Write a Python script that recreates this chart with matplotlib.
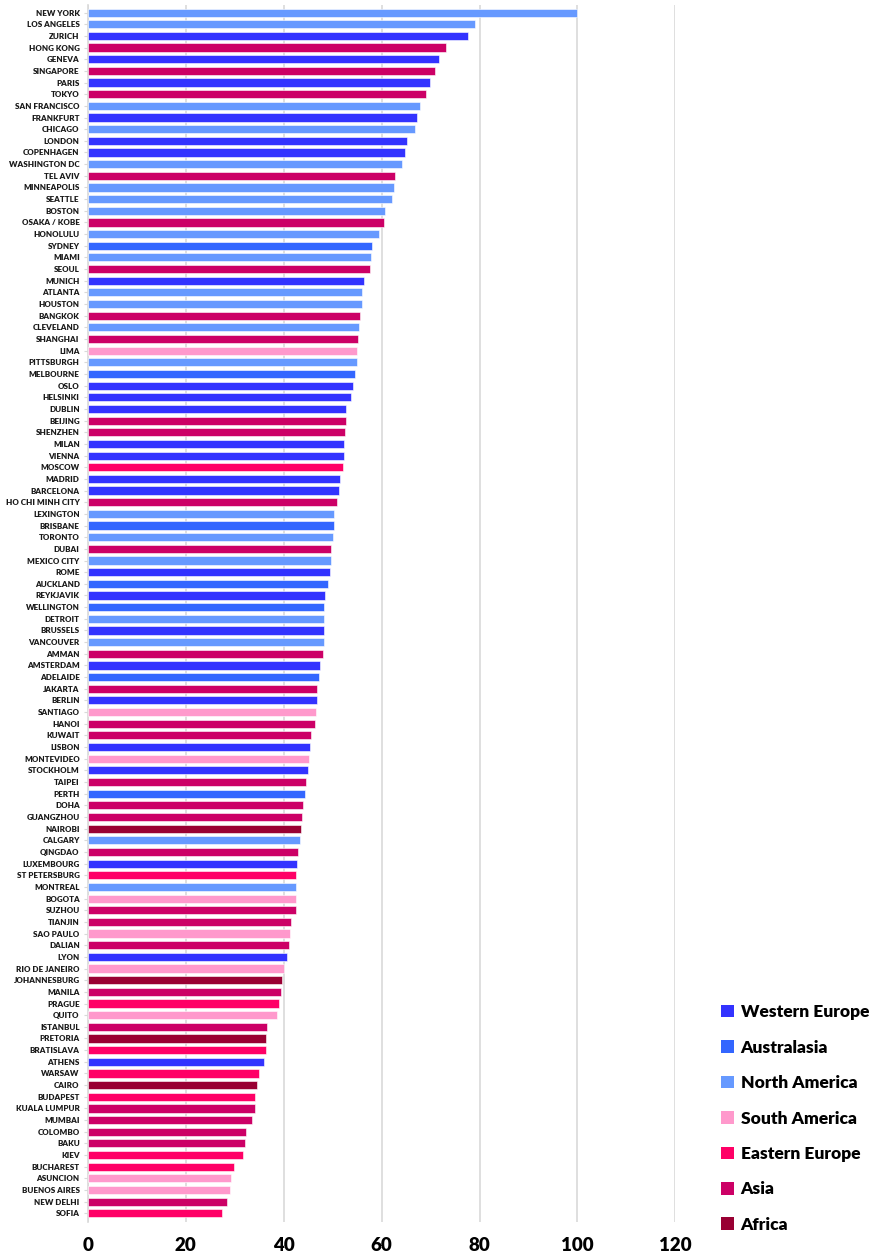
import matplotlib
matplotlib.use("Agg")
import matplotlib.pyplot as plt
from matplotlib.patches import Patch

# cities from top to bottom, with values and region
cities = [
    "NEW YORK", "LOS ANGELES", "ZURICH", "HONG KONG", "GENEVA", "SINGAPORE",
    "PARIS", "TOKYO", "SAN FRANCISCO", "FRANKFURT", "CHICAGO", "LONDON",
    "COPENHAGEN", "WASHINGTON DC", "TEL AVIV", "MINNEAPOLIS", "SEATTLE",
    "BOSTON", "OSAKA / KOBE", "HONOLULU", "SYDNEY", "MIAMI", "SEOUL",
    "MUNICH", "ATLANTA", "HOUSTON", "BANGKOK", "CLEVELAND", "SHANGHAI",
    "LIMA", "PITTSBURGH", "MELBOURNE", "OSLO", "HELSINKI", "DUBLIN",
    "BEIJING", "SHENZHEN", "MILAN", "VIENNA", "MOSCOW", "MADRID",
    "BARCELONA", "HO CHI MINH CITY", "LEXINGTON", "BRISBANE", "TORONTO",
    "DUBAI", "MEXICO CITY", "ROME", "AUCKLAND", "REYKJAVIK", "WELLINGTON",
    "DETROIT", "BRUSSELS", "VANCOUVER", "AMMAN", "AMSTERDAM", "ADELAIDE",
    "JAKARTA", "BERLIN", "SANTIAGO", "HANOI", "KUWAIT", "LISBON",
    "MONTEVIDEO", "STOCKHOLM", "TAIPEI", "PERTH", "DOHA", "GUANGZHOU",
    "NAIROBI", "CALGARY", "QINGDAO", "LUXEMBOURG", "ST PETERSBURG",
    "MONTREAL", "BOGOTA", "SUZHOU", "TIANJIN", "SAO PAULO", "DALIAN",
    "LYON", "RIO DE JANEIRO", "JOHANNESBURG", "MANILA", "PRAGUE", "QUITO",
    "ISTANBUL", "PRETORIA", "BRATISLAVA", "ATHENS", "WARSAW", "CAIRO",
    "BUDAPEST", "KUALA LUMPUR", "MUMBAI", "COLOMBO", "BAKU", "KIEV",
    "BUCHAREST", "ASUNCION", "BUENOS AIRES", "NEW DELHI", "SOFIA",
]

values = [
    100, 79.0, 77.6, 73.1, 71.8, 70.8,
    69.9, 69.0, 67.9, 67.2, 66.8, 65.2,
    64.7, 64.1, 62.8, 62.5, 62.2,
    60.6, 60.4, 59.5, 58.0, 57.8, 57.7,
    56.3, 56.0, 55.9, 55.6, 55.4, 55.2,
    55.0, 54.9, 54.6, 54.2, 53.8, 52.8,
    52.7, 52.6, 52.4, 52.3, 52.0, 51.5,
    51.2, 50.9, 50.3, 50.2, 50.1,
    49.7, 49.6, 49.4, 49.1, 48.4, 48.3,
    48.3, 48.2, 48.2, 48.1, 47.3, 47.1,
    46.8, 46.7, 46.5, 46.4, 45.5, 45.4,
    45.2, 45.0, 44.5, 44.3, 44.0, 43.7,
    43.5, 43.4, 42.9, 42.8, 42.6,
    42.5, 42.5, 42.4, 41.4, 41.2, 41.1,
    40.7, 40.0, 39.7, 39.4, 39.1, 38.6,
    36.5, 36.4, 36.3, 36.0, 35.0, 34.6,
    34.2, 34.1, 33.6, 32.3, 32.1, 31.7,
    29.9, 29.2, 29.0, 28.5, 27.4,
]

regions = [
    "NA", "NA", "WE", "AS", "WE", "AS",
    "WE", "AS", "NA", "WE", "NA", "WE",
    "WE", "NA", "AS", "NA", "NA",
    "NA", "AS", "NA", "AU", "NA", "AS",
    "WE", "NA", "NA", "AS", "NA", "AS",
    "SA", "NA", "AU", "WE", "WE", "WE",
    "AS", "AS", "WE", "WE", "EE", "WE",
    "WE", "AS", "NA", "AU", "NA",
    "AS", "NA", "WE", "AU", "WE", "AU",
    "NA", "WE", "NA", "AS", "WE", "AU",
    "AS", "WE", "SA", "AS", "AS", "WE",
    "SA", "WE", "AS", "AU", "AS", "AS",
    "AF", "NA", "AS", "WE", "EE",
    "NA", "SA", "AS", "AS", "SA", "AS",
    "WE", "SA", "AF", "AS", "EE", "SA",
    "AS", "AF", "EE", "WE", "EE", "AF",
    "EE", "AS", "AS", "AS", "AS", "EE",
    "EE", "SA", "SA", "AS", "EE",
]

region_keys = ["WE", "AU", "NA", "SA", "EE", "AS", "AF"]
region_names = ["Western Europe", "Australasia", "North America", "South America",
                "Eastern Europe", "Asia", "Africa"]
region_colors = ["#3333FF", "#3366FF", "#6699FF", "#FF99CC", "#FF0066", "#CC0066", "#990033"]
color_map = dict(zip(region_keys, region_colors))

fig = plt.figure(figsize=(8.78, 12.56), dpi=100)
ax = fig.add_axes([0.1002, 0.027, 0.669, 0.969])

n = len(cities)
ypos = list(range(n))[::-1]
bar_colors = [color_map[r] for r in regions]
ax.barh(ypos, values, height=0.7, color=bar_colors, edgecolor="white",
        linewidth=0.4, zorder=3)

ax.set_xlim(0, 120)
ax.set_ylim(-0.75, n - 0.35)
ax.set_xticks(range(0, 121, 20))
ax.set_yticks(ypos)
ax.set_yticklabels(cities, fontsize=5.8, fontweight="heavy", family="Lato", color="#1a1a1a")
for lbl in ax.get_xticklabels():
    lbl.set_fontsize(13.5)
    lbl.set_fontweight("heavy")
    lbl.set_family("Lato")

ax.grid(axis="x", color="#D9D9D9", linewidth=1.2, zorder=0)
for side in ["top", "right", "bottom"]:
    ax.spines[side].set_visible(False)
ax.spines["left"].set_color("#D9D9D9")
ax.spines["left"].set_linewidth(1.2)
ax.tick_params(axis="y", length=3, color="#D9D9D9", pad=3)
ax.tick_params(axis="x", length=0, pad=11)

handles = [Patch(facecolor=c, edgecolor="none") for c in region_colors]
fig.legend(handles, region_names, loc="lower left", bbox_to_anchor=(0.803, 0.006),
           frameon=False, prop={"family": "Lato", "weight": "heavy", "size": 12.5},
           labelspacing=1.12, handlelength=0.75, handleheight=0.75, handletextpad=0.4)

fig.savefig("out.png", dpi=100)
